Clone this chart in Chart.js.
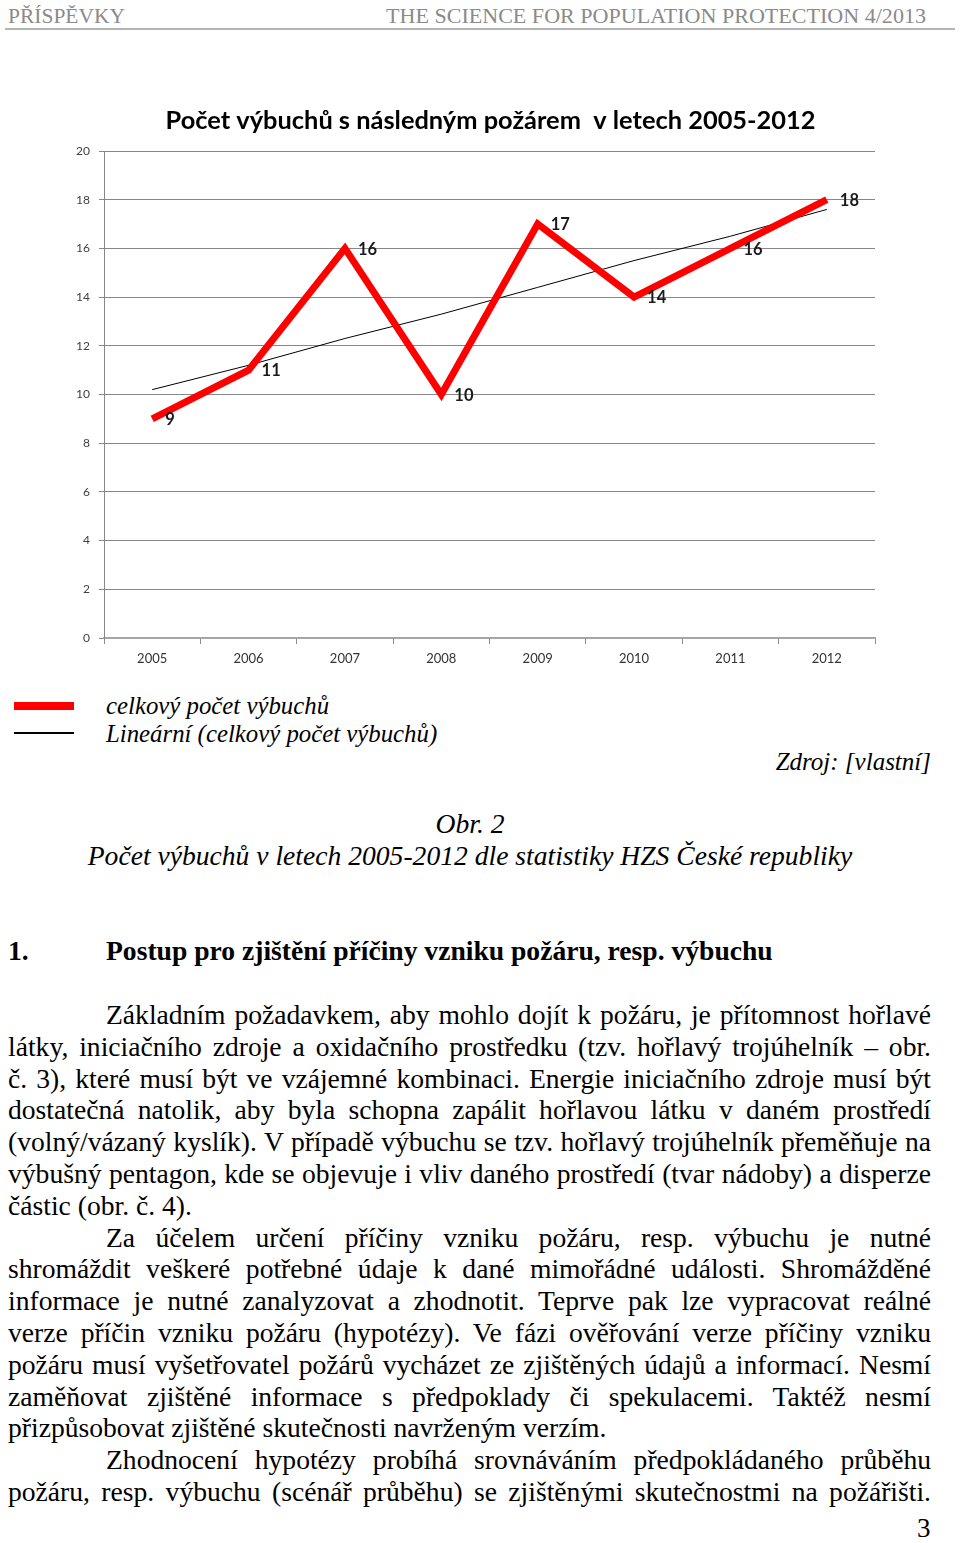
<!DOCTYPE html>
<html>
<head>
<meta charset="utf-8">
<script src="https://cdn.jsdelivr.net/npm/chart.js@4.4.0/dist/chart.umd.min.js"></script>
<style>
body{margin:0;background:#fff;width:960px;height:1543px;position:relative;overflow:hidden;font-family:"Liberation Serif","Times New Roman",serif;color:#000}
.t{position:absolute;white-space:nowrap;line-height:32px}
.hd{color:#8a8a8a;font-size:22px;transform-origin:left center}
.rule{position:absolute;left:5px;top:28px;width:950px;height:2px;background:#b4b4b4}
.it{font-style:italic}
.p{font-size:27.6px;text-align:justify;text-align-last:justify;word-spacing:-8px}
.pl{font-size:27.6px}
#chartBox{position:absolute;left:0;top:90px}
.lg{position:absolute;left:14px;width:60px}
</style>
</head>
<body>

<div class="t hd" id="h1" style="left:8px;top:0px">PŘÍSPĚVKY</div>
<div class="t hd" id="h2" style="left:386px;top:0px">THE SCIENCE FOR POPULATION PROTECTION 4/2013</div>
<div class="rule"></div>

<div id="chartBox"><canvas id="myChart" width="960" height="600"></canvas></div>

<div class="lg" style="top:702px;height:8px;background:#f00"></div>
<div class="lg" style="top:732px;height:2px;background:#000"></div>
<div class="t it" style="left:106px;top:690px;font-size:24.8px">celkový počet výbuchů</div>
<div class="t it" style="left:106px;top:718px;font-size:24.8px">Lineární (celkový počet výbuchů)</div>
<div class="t it" style="right:29px;top:746px;font-size:25px">Zdroj: [vlastní]</div>

<div class="t it" style="left:0;width:940px;text-align:center;top:808px;font-size:27.6px">Obr. 2</div>
<div class="t it" style="left:0;width:940px;text-align:center;top:840px;font-size:27.6px">Počet výbuchů v letech 2005-2012 dle statistiky HZS České republiky</div>

<div class="t" style="left:8px;top:935px;font-size:27.6px;font-weight:bold">1.</div>
<div class="t" style="left:106px;top:935px;font-size:27.6px;font-weight:bold">Postup pro zjištění příčiny vzniku požáru, resp. výbuchu</div>

<div id="text"></div>

<div class="t" style="left:917px;top:1512px;font-size:27px">3</div>

<script>
// chart data
var years = ["2005", "2006", "2007", "2008", "2009", "2010", "2011", "2012"];
var explosions = [9, 11, 16, 10, 17, 14, 16, 18];
var trendValues = [10.2, 11.2, 12.3, 13.3, 14.4, 15.5, 16.5, 17.6];
var yTicks = [0, 2, 4, 6, 8, 10, 12, 14, 16, 18, 20];
var chartTitle = "Počet výbuchů s následným požárem  v letech 2005-2012";

// text lines of the page: [text, indented, justified]
var lines = [
  ["Základním požadavkem, aby mohlo dojít k požáru, je přítomnost hořlavé", 1, 1],
  ["látky, iniciačního zdroje a oxidačního prostředku (tzv. hořlavý trojúhelník – obr.", 0, 1],
  ["č. 3), které musí být ve vzájemné kombinaci. Energie iniciačního zdroje musí být", 0, 1],
  ["dostatečná natolik, aby byla schopna zapálit hořlavou látku v daném prostředí", 0, 1],
  ["(volný/vázaný kyslík). V případě výbuchu se tzv. hořlavý trojúhelník přeměňuje na", 0, 1],
  ["výbušný pentagon, kde se objevuje i vliv daného prostředí (tvar nádoby) a disperze", 0, 1],
  ["částic (obr. č. 4).", 0, 0],
  ["Za účelem určení příčiny vzniku požáru, resp. výbuchu je nutné", 1, 1],
  ["shromáždit veškeré potřebné údaje k dané mimořádné události. Shromážděné", 0, 1],
  ["informace je nutné zanalyzovat a zhodnotit. Teprve pak lze vypracovat reálné", 0, 1],
  ["verze příčin vzniku požáru (hypotézy). Ve fázi ověřování verze příčiny vzniku", 0, 1],
  ["požáru musí vyšetřovatel požárů vycházet ze zjištěných údajů a informací. Nesmí", 0, 1],
  ["zaměňovat zjištěné informace s předpoklady či spekulacemi. Taktéž nesmí", 0, 1],
  ["přizpůsobovat zjištěné skutečnosti navrženým verzím.", 0, 0],
  ["Zhodnocení hypotézy probíhá srovnáváním předpokládaného průběhu", 1, 1],
  ["požáru, resp. výbuchu (scénář průběhu) se zjištěnými skutečnostmi na požářišti.", 0, 1]
];

var box = document.getElementById("text");
for (var i = 0; i < lines.length; i++) {
  var d = document.createElement("div");
  var left = lines[i][1] ? 106 : 8;
  d.className = "t " + (lines[i][2] ? "p" : "pl");
  d.style.left = left + "px";
  d.style.width = (931 - left) + "px";
  d.style.top = Math.round(999 + i * 31.8) + "px";
  d.textContent = lines[i][0];
  box.appendChild(d);
}

// squeeze header text to its width
function fitWidth(id, w) {
  var el = document.getElementById(id);
  var nat = el.getBoundingClientRect().width;
  el.style.transform = "scaleX(" + (w / nat) + ")";
}
fitWidth("h1", 117);
fitWidth("h2", 540);

var pointValues = {
  id: "pointValues",
  afterDatasetsDraw: function(chart) {
    var ctx = chart.ctx;
    var meta = chart.getDatasetMeta(0);
    ctx.save();
    ctx.font = "bold 16.5px Lato";
    ctx.fillStyle = "#1a1a1a";
    ctx.textAlign = "left";
    ctx.textBaseline = "middle";
    meta.data.forEach(function(pt, i) {
      ctx.fillText(explosions[i], pt.x + 13, pt.y + 1);
    });
    ctx.restore();
  }
};

var heading = {
  id: "heading",
  afterDraw: function(chart) {
    var ctx = chart.ctx;
    var a = chart.chartArea;
    ctx.save();
    ctx.font = "bold 25.4px Lato";
    ctx.fillStyle = "#000";
    ctx.textAlign = "center";
    ctx.textBaseline = "middle";
    ctx.fillText(chartTitle, (a.left + a.right) / 2 + 1, 31);
    ctx.restore();
  }
};

new Chart("myChart", {
  type: "line",
  data: {
    labels: years,
    datasets: [
      {
        label: "celkový počet výbuchů",
        data: explosions,
        borderColor: "#f00",
        borderWidth: 7,
        pointRadius: 0,
        tension: 0
      },
      {
        label: "Lineární (celkový počet výbuchů)",
        data: trendValues,
        borderColor: "#000",
        borderWidth: 1,
        pointRadius: 0,
        tension: 0
      }
    ]
  },
  options: {
    responsive: false,
    animation: false,
    layout: { padding: { top: 61, right: 85, bottom: 0, left: 0 } },
    plugins: { legend: { display: false }, tooltip: { enabled: false } },
    scales: {
      x: {
        offset: true,
        grid: { drawOnChartArea: false, offset: true, tickLength: 6, color: "#8c8c8c" },
        border: { color: "#a6a6a6", width: 2 },
        ticks: { color: "#333", font: { family: "Lato", size: 13 }, padding: 7 },
        afterFit: function(s) { s.height = 52; }
      },
      y: {
        min: 0,
        max: 20,
        afterBuildTicks: function(s) { s.ticks = yTicks.map(function(v) { return { value: v }; }); },
        grid: { color: "#878787", tickLength: 5 },
        border: { color: "#878787", width: 1 },
        ticks: { color: "#404040", font: { family: "Lato", size: 12 }, padding: 9 },
        afterFit: function(s) { s.width = 104; }
      }
    }
  },
  plugins: [pointValues, heading]
});
</script>
</body>
</html>
